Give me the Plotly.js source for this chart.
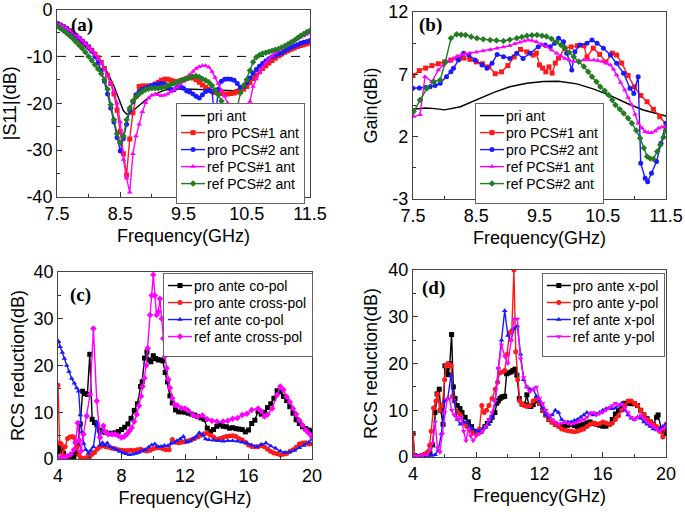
<!DOCTYPE html>
<html><head><meta charset="utf-8">
<script src="https://cdn.plot.ly/plotly-3.0.1.min.js"></script>
<style>body{margin:0;background:#fff}#c{width:685px;height:515px}</style>
</head><body><div id="c"></div>
<script>
// ---------- panel (a): |S11| ----------
const aPriX=[7.5,7.6,7.7,7.8,7.9,8.0,8.1,8.2,8.3,8.4,8.5,8.55,8.6,8.65,8.7,8.8,8.9,9.0,9.2,9.4,9.6,9.8,10.0,10.2,10.3,10.4,10.5,10.6,10.7,10.8,10.9,11.0,11.1,11.2,11.3,11.4,11.5];
const aPriY=[-3,-3.9,-5,-6.2,-7.5,-8.6,-9.8,-11.3,-13.5,-16.3,-19.8,-21.6,-22.3,-22.2,-21.6,-20.4,-19.3,-18.3,-17.2,-16.9,-17,-17.1,-17.2,-17.3,-17.3,-16.8,-15.7,-14.5,-13.1,-11.9,-10.9,-10.1,-9.4,-8.7,-8.1,-7.5,-7];
const aX=[7.5,7.55,7.6,7.65,7.7,7.75,7.8,7.85,7.9,7.95,8.0,8.05,8.1,8.15,8.2,8.25,8.3,8.35,8.4,8.45,8.5,8.55,8.6,8.65,8.7,8.75,8.8,8.85,8.9,8.95,9.0,9.05,9.1,9.15,9.2,9.25,9.3,9.35,9.4,9.45,9.5,9.55,9.6,9.65,9.7,9.75,9.8,9.85,9.9,9.95,10.0,10.05,10.1,10.15,10.2,10.25,10.3,10.35,10.4,10.45,10.5,10.55,10.6,10.65,10.7,10.75,10.8,10.85,10.9,10.95,11.0,11.05,11.1,11.15,11.2,11.25,11.3,11.35,11.4,11.45,11.5];
const aPro1=[-3,-3.3,-3.7,-4.1,-4.6,-5.1,-5.6,-6.2,-6.8,-7.4,-8.0,-8.7,-9.5,-10.3,-11.3,-12.6,-14,-15.8,-18,-21.5,-26,-30.8,-35.3,-27.6,-22,-18.5,-16.4,-16.3,-16.3,-16.3,-16.2,-15.9,-15.5,-15.1,-14.9,-14.9,-15.1,-15.3,-15.4,-15.2,-15,-14.7,-14.4,-14.6,-15,-15.5,-16.1,-16.6,-17,-17.4,-17.7,-17.8,-17.9,-18,-18,-17.9,-17.8,-17.6,-17.4,-17,-16.4,-15.6,-14.7,-14,-13.3,-12.6,-12,-11.4,-10.9,-10.4,-9.9,-9.5,-9.1,-8.8,-8.5,-8.2,-7.9,-7.7,-7.5,-7.3,-7.1];
const aPro2=[-3,-3.3,-3.6,-4,-4.5,-5,-5.5,-6.1,-6.7,-7.3,-8,-8.9,-10,-11.4,-13,-15.3,-18,-21,-24,-27.3,-30.2,-27.5,-24.5,-21.5,-19.7,-18.2,-17.5,-17,-16.8,-16.5,-16.2,-16,-15.9,-15.8,-15.9,-16.5,-17,-17.1,-16.6,-16.3,-16.8,-17.4,-17.6,-18,-18.5,-18.9,-18.2,-17.5,-17.3,-17.5,-24,-17,-15.3,-14.9,-14.8,-14.9,-15.1,-15.8,-16.6,-16.5,-15.6,-14.6,-13.6,-12.8,-12.1,-11.5,-11,-10.5,-10.1,-9.8,-9.5,-9.2,-8.8,-8.4,-8.1,-7.8,-7.5,-7.2,-7,-6.8,-6.6];
const aRef1=[-3,-3.3,-3.6,-4,-4.4,-4.9,-5.4,-6,-6.6,-7.3,-8,-8.8,-9.6,-10.5,-11.5,-12.8,-14.2,-15.8,-17.5,-20,-24,-32,-36,-39,-30.8,-27,-24.5,-21.8,-19.9,-18.9,-18.3,-18.1,-18.2,-18.4,-18.3,-18,-17.6,-17.1,-16.6,-16,-15.3,-14.6,-13.9,-13.2,-12.6,-12.2,-12,-12,-12.3,-13.2,-14.5,-15.8,-17.2,-18.5,-20,-22.5,-25,-27,-27,-25,-22,-19.6,-16.4,-14.8,-13.4,-12.3,-11.4,-10.6,-9.9,-9.3,-8.8,-8.3,-7.9,-7.5,-7.1,-6.7,-6.3,-5.9,-5.6,-5.3,-5];
const aRef2=[-3.5,-4,-4.5,-5,-5.6,-6.2,-6.9,-7.6,-8.3,-9.1,-10,-10.9,-11.8,-12.7,-13.7,-15,-17,-20.3,-23.5,-26.5,-28.5,-27,-23.5,-21,-19.5,-18.6,-18,-17.5,-17.1,-16.9,-16.8,-16.8,-16.8,-16.7,-16.5,-16.2,-16,-15.8,-15.5,-15.2,-15,-14.7,-14.5,-14.3,-14.2,-14.4,-14.8,-15.1,-15.5,-16.2,-17.2,-18.2,-19.5,-21,-23,-24,-23.5,-21,-17.8,-16.2,-15,-13,-11.2,-10.2,-9.7,-9.4,-9.2,-9,-8.8,-8.6,-8.4,-8.1,-7.8,-7.4,-7,-6.6,-6.1,-5.6,-5.2,-4.8,-4.5];
const aRefLine=[-10];
const aXTicks=[7.5,8.5,9.5,10.5,11.5];
const aYTicks=[0,-10,-20,-30,-40];
const aYLabels=['0','-10','-20','-30','-40'];

// ---------- panel (b): Gain ----------
const bPriX=[7.5,7.7,7.85,8.0,8.25,8.5,8.78,9.03,9.3,9.56,9.8,10.09,10.36,10.62,10.88,11.14,11.5];
const bPriY=[4.2,4.3,4.25,4.15,4.4,4.95,5.56,6.0,6.28,6.42,6.45,6.23,5.82,5.29,4.68,4.14,3.65];
const bPro1X=[7.5,7.6,7.7,7.8,7.9,8.0,8.1,8.2,8.3,8.4,8.5,8.6,8.7,8.8,8.9,9.0,9.1,9.2,9.3,9.4,9.45,9.5,9.55,9.6,9.65,9.7,9.75,9.8,9.9,10.0,10.1,10.2,10.25,10.35,10.45,10.55,10.65,10.72,10.8,10.9,11.0,11.1,11.2,11.3,11.4,11.5];
const bPro1Y=[6.9,7.3,7.5,7.7,7.85,8.0,8.15,8.3,8.3,8.2,8.0,7.85,7.6,7.05,7.2,7.7,8.4,9.0,8.8,8.55,8.7,7.75,7.5,7.2,7.6,7.1,7.9,8.3,9.1,9.2,9.3,9.3,8.4,9.1,8.6,8.0,8.7,8.55,7.9,6.9,6.0,5.3,4.8,4.2,3.6,3.0];
const bPro2X=[7.5,7.6,7.7,7.77,7.85,7.93,8.03,8.1,8.14,8.22,8.3,8.38,8.48,8.59,8.67,8.75,8.83,8.93,9.03,9.14,9.24,9.35,9.48,9.59,9.67,9.74,9.8,9.88,9.93,10.01,10.06,10.14,10.25,10.33,10.41,10.51,10.62,10.72,10.83,10.93,10.99,11.06,11.1,11.17,11.21,11.27,11.35,11.42,11.5];
const bPro2Y=[5.88,5.9,5.95,6.01,6.1,6.28,6.81,7.2,7.48,8.15,8.69,8.55,8.15,7.75,7.48,7.88,8.6,8.42,8.28,8.69,8.28,8.69,9.22,9.36,9.22,9.5,9.89,9.62,8.69,7.35,8.82,9.36,9.5,9.76,9.5,9.09,8.55,7.88,7.08,5.88,5.47,6.81,-0.14,-1.34,-1.61,-0.94,0.0,1.47,3.07];
const bRef1X=[7.51,7.61,7.69,7.8,7.9,7.98,8.06,8.14,8.2,8.27,8.33,8.4,8.5,8.61,8.72,8.83,8.93,9.03,9.11,9.19,9.26,9.32,9.38,9.45,9.53,9.61,9.69,9.77,9.84,9.9,9.97,10.04,10.12,10.2,10.28,10.36,10.42,10.49,10.56,10.62,10.67,10.72,10.78,10.85,10.9,10.96,11.01,11.06,11.12,11.17,11.22,11.27,11.33,11.38,11.43,11.48];
const bRef1Y=[3.61,3.75,6.81,6.41,7.35,7.75,8.0,8.28,8.45,8.6,8.65,8.69,8.78,8.87,8.98,9.09,9.2,9.3,9.45,9.57,9.68,9.76,9.72,9.62,9.42,9.22,8.95,8.69,8.48,8.28,8.15,8.02,8.08,8.15,8.15,8.15,8.1,8.02,7.9,7.75,7.4,6.95,6.35,5.74,5.15,4.54,3.8,3.07,2.7,2.4,2.33,2.32,2.45,2.67,2.75,2.8];
const bRef2X=[7.51,7.61,7.72,7.83,7.93,8.01,8.1,8.19,8.26,8.33,8.42,8.51,8.61,8.72,8.82,8.93,9.03,9.14,9.22,9.3,9.38,9.46,9.54,9.61,9.69,9.77,9.84,9.9,9.97,10.04,10.12,10.2,10.27,10.33,10.4,10.46,10.53,10.59,10.65,10.7,10.77,10.83,10.9,10.96,11.03,11.09,11.15,11.2,11.25,11.3,11.36,11.41,11.46,11.5];
const bRef2Y=[4.01,4.95,5.88,6.41,6.55,7.97,9.89,10.21,10.18,10.16,10.02,9.89,9.82,9.76,9.72,9.68,9.78,9.89,10.0,10.1,10.13,10.16,10.1,10.03,9.85,9.62,9.35,9.09,8.75,8.42,8.0,7.62,7.2,6.81,6.4,6.01,5.68,5.34,4.94,4.54,4.2,3.87,3.47,3.07,2.5,1.87,1.1,0.4,0.25,0.21,0.8,1.34,1.95,2.54];
const bXTicks=[7.5,8.5,9.5,10.5,11.5];
const bYTicks=[-3,2,7,12];
const bYLabels=['-3','2','7','12'];

// ---------- panel (c): RCS reduction co/cross ----------
const cProCoX=[4.0,4.1,4.2,4.35,4.5,4.65,4.8,5.0,5.1,5.25,5.4,5.55,5.7,5.85,6.0,6.15,6.3,6.45,6.6,6.8,7.0,7.2,7.4,7.6,7.8,8.0,8.2,8.4,8.6,8.8,9.0,9.2,9.3,9.45,9.6,9.7,9.85,10.0,10.15,10.3,10.45,10.6,10.75,10.9,11.05,11.2,11.4,11.6,11.8,12.0,12.2,12.4,12.6,12.8,13.0,13.2,13.4,13.6,13.8,14.0,14.2,14.4,14.6,14.8,15.0,15.2,15.4,15.6,15.8,16.0,16.2,16.4,16.6,16.8,17.0,17.2,17.4,17.6,17.8,18.0,18.2,18.4,18.6,18.8,19.0,19.2,19.4,19.6,19.8,20.0];
const cProCoY=[1.5,2.8,2.0,1.2,0.5,0.1,0.1,0.5,1.2,3.2,7.5,14.5,14.0,13.8,22.4,8.5,7.8,7.3,6.2,5.8,5.7,5.5,5.5,5.6,5.9,6.3,6.8,7.5,8.7,10.4,11.8,15.5,16.5,21.6,22.9,21.2,20.8,22.1,21.5,21.2,21.2,21,18.5,16.5,13.5,12,10.5,10.1,10.1,10,9.8,9.6,9.4,9.1,8.8,8.5,6.6,5.9,6.3,7,7.3,7.0,6.9,6.6,6.7,6.5,6.4,6.3,5.8,6.2,7.6,8.3,10.2,9.6,10.0,11.0,11.8,13.0,14.6,14.4,13.4,12.5,11.2,9.8,8.4,7.6,6.9,6.5,6.2,6.0];
const cProCrX=[4.0,4.1,4.2,4.3,4.45,4.6,4.75,4.9,5.0,5.1,5.2,5.31,5.42,5.52,5.7,5.83,6.0,6.14,6.3,6.46,6.6,6.77,7.0,7.2,7.4,7.6,7.8,8.0,8.2,8.4,8.6,8.8,9.0,9.2,9.4,9.6,9.8,10.0,10.2,10.4,10.6,10.8,11.0,11.2,11.4,11.6,11.8,12.0,12.2,12.4,12.6,12.8,13.0,13.2,13.4,13.6,13.8,14.0,14.2,14.4,14.6,14.8,15.0,15.2,15.4,15.6,15.8,16.0,16.2,16.4,16.6,16.8,17.0,17.2,17.4,17.6,17.8,18.0,18.2,18.4,18.6,18.8,19.0,19.2,19.4,19.6,19.8,20.0];
const cProCrY=[15.8,3.4,3.2,0.8,2.6,4.4,4.7,4.8,4.6,3.7,2.5,0.9,0.3,0,0.2,0.3,0.5,1,1.4,2.1,2.5,2.8,2.6,2.5,2.3,2.2,2.0,1.9,1.8,1.8,1.9,1.8,2.0,2.1,1.9,1.7,1.9,2.2,2.4,2.4,2.2,2.0,2.0,4.2,3.6,3.5,3.6,3.7,3.9,4.1,4.4,4.7,5.1,5.4,5.5,5.1,4.7,4.2,4.4,4.6,4.8,4.9,5.0,4.8,4.4,4.1,3.6,3.0,2.7,2.6,2.6,2.9,2.6,2.1,1.6,1.3,1.1,0.9,1.0,1.2,1.6,2.0,2.5,3.2,3.4,3.5,3.2,3.2];
const cRefCoX=[4.0,4.13,4.27,4.4,4.55,4.69,4.86,5.03,5.18,5.3,5.4,5.5,5.62,5.75,5.91,6.05,6.23,6.44,6.65,6.8,6.96,7.1,7.3,7.5,7.7,7.9,8.1,8.3,8.5,8.7,8.9,9.1,9.3,9.5,9.7,9.9,10.1,10.3,10.5,10.7,10.9,11.1,11.3,11.5,11.7,11.9,12.1,12.3,12.5,12.7,12.9,13.1,13.3,13.5,13.8,14.1,14.4,14.7,15.0,15.3,15.6,15.9,16.2,16.5,16.8,17.1,17.4,17.7,18.0,18.3,18.6,18.9,19.2,19.5,19.8,20.0];
const cRefCoY=[25.3,24,22.8,21.5,20,18.7,17.2,16.2,15.2,14.5,9.4,5.8,3.3,2,1.2,1.8,2.6,7.9,3,3.5,2.9,3.4,2.6,2.3,2.0,1.6,1.3,1.1,0.9,1.0,1.2,1.4,1.7,2.0,2.5,3.0,3.2,2.6,2.7,2.9,2.8,3.3,3.5,3.9,4.3,4.8,3.6,3.8,4.3,4.8,5.6,5.2,4.3,4.1,4.0,3.9,3.8,3.9,3.9,3.8,3.6,3.4,3.0,2.6,3.1,3.4,2.8,2.3,1.7,1.4,1.5,1.8,2.4,2.9,3.6,4.3];
const cRefCrX=[4.0,4.15,4.3,4.45,4.6,4.8,5.0,5.1,5.24,5.35,5.45,5.6,5.81,6.02,6.23,6.44,6.65,6.86,7.0,7.17,7.4,7.6,7.8,8.0,8.17,8.33,8.5,8.64,8.8,8.96,9.1,9.23,9.33,9.44,9.55,9.65,9.8,9.9,10.0,10.1,10.21,10.32,10.42,10.53,10.63,10.74,10.84,10.95,11.05,11.2,11.36,11.5,11.78,12.0,12.2,12.5,12.8,13.1,13.4,13.7,14.0,14.4,14.7,15.0,15.3,15.6,15.9,16.2,16.6,16.8,17.0,17.2,17.5,17.8,18.0,18.2,18.4,18.6,18.8,19.0,19.2,19.4,19.6,19.8,20.0];
const cRefCrY=[0.3,0.2,0.3,0.4,0.6,1,2,3.5,7.7,4,1.7,5.3,9.2,13.8,27.9,12.4,4.6,7.1,5.8,5.3,5.3,5.3,5.0,4.6,4.8,5.3,6,6.7,8,9.5,11.4,13.4,15.5,17.3,20,23.7,30.8,35,39.4,35,30.8,31.5,34.3,30,25.8,22,19.4,17,15.2,13,11.6,11.5,10.9,10.8,10.4,9.4,9.1,9.3,8.5,8.2,8,8,8.2,8.6,8.8,9.4,9.7,10.5,10.8,10.2,9.1,9.5,10.8,13.7,15.5,14.8,13.3,12.2,10.8,9.6,8.3,7.3,6.2,5.5,4.7];
const cdXTicks=[4,8,12,16,20];
const cdYTicks=[0,10,20,30,40];

// ---------- panel (d): RCS reduction x/y ----------
const dProXX=[4.0,4.1,4.3,4.5,4.7,4.9,5.07,5.24,5.39,5.52,5.66,5.75,5.9,6.02,6.12,6.23,6.33,6.44,6.55,6.66,6.8,6.97,7.1,7.3,7.5,7.7,7.9,8.13,8.3,8.55,8.7,8.87,9.0,9.18,9.3,9.4,9.5,9.6,9.7,9.8,9.92,10.05,10.2,10.32,10.45,10.57,10.72,10.9,11.05,11.2,11.32,11.45,11.6,11.8,12.0,12.2,12.4,12.6,12.8,13.0,13.2,13.4,13.6,13.8,14.0,14.2,14.4,14.6,14.8,15.0,15.2,15.4,15.6,15.8,16.0,16.2,16.4,16.6,16.8,17.0,17.2,17.4,17.6,17.8,18.0,18.2,18.4,18.6,18.8,19.0,19.2,19.4,19.5,19.7,19.9,20.0];
const dProXY=[5,0.3,0.1,0.1,0.2,0.4,0.8,2.6,9.5,13.5,14.5,10,7,19.5,18.5,17.6,20,26.2,15,12.5,11,10.4,9.5,8.5,7.5,6.5,5.5,5.3,5.5,6.5,7.2,7.8,8.5,9.5,11.5,12,12.5,12.8,12.9,13,17.8,18,18.2,18.5,18.8,17.5,12.5,11.3,11.2,13.3,11,10.8,11.2,12,11.5,10,9,8,7.5,7,6.8,6.5,6.6,6.8,7,6.7,6.5,6.8,7,7.3,7.5,7.2,7,6.8,6.6,6.6,7,8,9.2,10,10.8,11.5,11.5,11.4,11.4,11,10,9,8.2,7.5,7,8.5,9,6,5.5,5];
const dProYX=[4.0,4.1,4.3,4.5,4.7,4.9,5.05,5.15,5.3,5.45,5.55,5.7,5.85,6.0,6.1,6.2,6.3,6.4,6.5,6.6,6.8,7.0,7.2,7.4,7.6,7.8,8.0,8.2,8.35,8.5,8.65,8.8,9.0,9.2,9.35,9.5,9.65,9.8,9.95,10.1,10.25,10.38,10.5,10.62,10.75,10.9,11.05,11.2,11.4,11.6,11.8,12.0,12.2,12.4,12.6,12.8,13.0,13.2,13.4,13.6,13.8,14.0,14.2,14.4,14.6,14.8,15.0,15.2,15.4,15.6,15.8,16.0,16.2,16.4,16.6,16.8,17.0,17.2,17.4,17.6,17.8,18.0,18.2,18.4,18.6,18.8,19.0,19.2,19.4,19.6,19.8,20.0];
const dProYY=[5,0.2,0.1,0.3,0.6,1,2.5,5.5,10.5,12,13.5,10,11,16.5,19.5,20,19.8,19.5,13,12,9.5,9,7.2,6.5,5.8,5.2,5,6,11,9.5,10,11,12.5,14.5,16,18,18.2,18.5,22,26.5,27,40,22.5,16.5,12,11.3,11,10.8,11,12,12.5,11.5,10,9,8,7.5,7,6.5,6,5.8,5.6,5.5,5.4,5.5,5.8,6,6.5,7,7.2,7,7.1,7.5,7.3,7,7.2,8,8.8,10,11,12,12,11.5,11,10,9,8,7.5,7,6.5,5.5,4.3,7];
const dRefXX=[4.0,4.3,4.6,4.9,5.2,5.4,5.6,5.8,6.0,6.2,6.4,6.6,6.8,7.0,7.2,7.4,7.6,7.8,8.0,8.2,8.4,8.6,8.8,9.0,9.2,9.4,9.6,9.8,10.0,10.2,10.4,10.6,10.8,11.0,11.2,11.4,11.6,11.8,12.0,12.2,12.4,12.6,12.8,13.0,13.2,13.4,13.6,13.8,14.0,14.2,14.4,14.6,14.8,15.0,15.2,15.4,15.6,15.8,16.0,16.2,16.4,16.6,16.8,17.0,17.2,17.4,17.6,17.8,18.0,18.2,18.4,18.6,18.8,19.0,19.2,19.4,19.6,19.8,20.0];
const dRefXY=[0.3,0.2,0.2,0.3,0.3,0.5,1.5,5,12,12.5,17.5,12,8,7,7.5,7.5,6.5,6,5.5,5.5,6,6.5,7,8.5,12,19,25,31.3,26,25,27.5,28,22,16.5,15,14.5,14.5,13,12,10.5,9,8.5,9,10,9.5,8,7.5,7.5,7.5,7.8,8,8.5,9,9.5,9.3,9,9.2,9.5,10,10.3,10.5,10.3,10.5,11,11.5,10,9,8.3,8,8.5,8.3,7.5,7,6.5,6,5.8,6,6.5,7];
const dRefYX=[4.0,4.3,4.6,4.9,5.1,5.25,5.4,5.55,5.7,5.85,6.0,6.15,6.3,6.45,6.6,6.75,6.9,7.05,7.2,7.35,7.5,7.65,7.8,8.0,8.2,8.4,8.6,8.8,9.0,9.2,9.4,9.6,9.8,10.0,10.2,10.4,10.6,10.8,11.0,11.2,11.4,11.6,11.8,12.0,12.2,12.4,12.6,12.8,13.0,13.2,13.4,13.6,13.8,14.0,14.2,14.4,14.6,14.8,15.0,15.2,15.4,15.6,15.8,16.0,16.2,16.4,16.6,16.8,17.0,17.2,17.4,17.6,17.8,18.0,18.2,18.4,18.6,18.8,19.0,19.2,19.4,19.6,19.8,20.0];
const dRefYY=[0.3,0.2,0.3,0.5,1.5,3,7.5,2,1,5,9.5,12.3,12.5,10,9,8.5,8,8.5,5.5,3.5,6,4.5,3.5,4.5,5,5.5,6.5,8,9.5,12,19,24,21.5,20,25,29.5,29.5,21,17,15,14,14.5,15,12.5,11.5,10,9,8,7.5,7,7.3,7.5,7.2,7,7.2,7.5,7.8,8,8.5,9.3,9.5,9,9.3,9.6,10,10.5,11,11.5,11,11.3,10.5,9.5,8.5,8,8.5,9,8.3,7.5,7,6.5,6,5.5,6,6.5];

// ---------- names ----------
const abNames=['pri ant','pro PCS#1 ant','pro PCS#2 ant','ref PCS#1 ant','ref PCS#2 ant'];
const cNames=['pro ante co-pol','pro ante cross-pol','ref ante co-pol','ref ante cross-pol'];
const dNames=['pro ante x-pol','pro ante y-pol','ref ante x-pol','ref ante y-pol'];
const xTitle='Frequency(GHz)';
const yTitles=['|S11|(dB)','Gain(dBi)','RCS reduction(dB)','RCS reduction(dB)'];
const panelLabels=['(a)','(b)','(c)','(d)'];

const RED='#ff1a1a', BLUE='#1a1aff', MAG='#ff00ff', GRN='#237b23', BLK='#000000';
function tr(x,y,name,color,symbol,xa,ya,leg){
  const t={x:x,y:y,name:name,xaxis:xa,yaxis:ya,legend:leg,
    mode: symbol? 'lines+markers':'lines',
    line:{color:color,width:1.4},showlegend:true};
  if(symbol) t.marker={symbol:symbol,size:5,color:color,line:{width:0}};
  return t;
}
const data=[
  tr(aPriX,aPriY,abNames[0],BLK,null,'x','y','legend'),
  tr(aX,aPro1,abNames[1],RED,'square','x','y','legend'),
  tr(aX,aPro2,abNames[2],BLUE,'circle','x','y','legend'),
  tr(aX,aRef1,abNames[3],MAG,'triangle-up','x','y','legend'),
  tr(aX,aRef2,abNames[4],GRN,'diamond','x','y','legend'),
  tr(bPriX,bPriY,abNames[0],BLK,null,'x2','y2','legend2'),
  tr(bPro1X,bPro1Y,abNames[1],RED,'square','x2','y2','legend2'),
  tr(bPro2X,bPro2Y,abNames[2],BLUE,'circle','x2','y2','legend2'),
  tr(bRef1X,bRef1Y,abNames[3],MAG,'triangle-up','x2','y2','legend2'),
  tr(bRef2X,bRef2Y,abNames[4],GRN,'diamond','x2','y2','legend2'),
  tr(cProCoX,cProCoY,cNames[0],BLK,'square','x3','y3','legend3'),
  tr(cProCrX,cProCrY,cNames[1],RED,'circle','x3','y3','legend3'),
  tr(cRefCoX,cRefCoY,cNames[2],BLUE,'triangle-up','x3','y3','legend3'),
  tr(cRefCrX,cRefCrY,cNames[3],MAG,'diamond','x3','y3','legend3'),
  tr(dProXX,dProXY,dNames[0],BLK,'square','x4','y4','legend4'),
  tr(dProYX,dProYY,dNames[1],RED,'circle','x4','y4','legend4'),
  tr(dRefXX,dRefXY,dNames[2],BLUE,'triangle-up','x4','y4','legend4'),
  tr(dRefYX,dRefYY,dNames[3],MAG,'triangle-down','x4','y4','legend4')
];

const FONT='"Liberation Sans", Arial, sans-serif';
function xax(dom,anchor,range,tv,minorD){
  return {domain:dom,anchor:anchor,range:range,tickmode:'array',tickvals:tv,
    ticks:'inside',ticklen:5,tickwidth:1,tickcolor:'#333',ticklabeloverflow:'allow',
    minor:{ticks:'inside',ticklen:3,dtick:minorD,tick0:range[0],tickcolor:'#333',showgrid:false},
    showline:true,mirror:true,linecolor:'#444',linewidth:1,showgrid:false,zeroline:false,
    tickfont:{size:18,family:FONT,color:'#000'},
    title:{text:xTitle,font:{size:18,family:FONT,color:'#000'},standoff:6}};
}
function yax(dom,anchor,range,tv,tt,minorD,title,stand){
  const o={domain:dom,anchor:anchor,range:range,tickmode:'array',tickvals:tv,
    ticks:'inside',ticklen:5,tickwidth:1,tickcolor:'#333',ticklabeloverflow:'allow',
    minor:{ticks:'inside',ticklen:3,dtick:minorD,tick0:range[0],tickcolor:'#333',showgrid:false},
    showline:true,mirror:true,linecolor:'#444',linewidth:1,showgrid:false,zeroline:false,
    tickfont:{size:18,family:FONT,color:'#000'},
    title:{text:title,font:{size:18,family:FONT,color:'#000'},standoff:stand}};
  if(tt) o.ticktext=tt;
  return o;
}
function leg(x,y){
  return {x:x,y:y,xanchor:'left',yanchor:'top',xref:'paper',yref:'paper',
    bgcolor:'#ffffff',bordercolor:'#666',borderwidth:1,
    font:{size:14,family:FONT,color:'#000'},tracegroupgap:0,itemwidth:30};
}
function lab(t,xr,yr,xd,yd){
  return {text:'<b>'+t+'</b>',xref:xr+' domain',yref:yr+' domain',x:xd,y:yd,
    showarrow:false,xanchor:'center',yanchor:'middle',
    font:{family:'"Liberation Serif", "Times New Roman", serif',size:19,color:'#000'}};
}
const layout={
  width:685,height:515,margin:{l:0,r:0,t:0,b:0},
  paper_bgcolor:'#fff',plot_bgcolor:'#fff',
  font:{family:FONT,color:'#000'},
  xaxis:xax([0.0832,0.4526],'y',[7.5,11.5],aXTicks,0.5),
  yaxis:yax([0.6175,0.9815],'x',[-40,0],aYTicks,aYLabels,5,yTitles[0],6),
  xaxis2:xax([0.6029,0.9723],'y2',[7.5,11.5],bXTicks,0.5),
  yaxis2:yax([0.6136,0.9767],'x2',[-3,12],bYTicks,bYLabels,2.5,yTitles[1],6),
  xaxis3:xax([0.0847,0.4555],'y3',[4,20],cdXTicks,2),
  yaxis3:yax([0.1087,0.4718],'x3',[0,40],cdYTicks,null,5,yTitles[2],4),
  xaxis4:xax([0.6029,0.9723],'y4',[4,20],cdXTicks,2),
  yaxis4:yax([0.1126,0.4757],'x4',[0,40],cdYTicks,null,5,yTitles[3],6),
  legend:leg(0.257,0.80),
  legend2:leg(0.6934,0.80),
  legend3:leg(0.238,0.470),
  legend4:leg(0.791,0.470),
  shapes:[{type:'line',xref:'x',yref:'y',x0:aXTicks[0],x1:aXTicks[aXTicks.length-1],y0:aRefLine[0],y1:aRefLine[0],
    line:{color:'#000',width:1,dash:'dash'},layer:'below'}],
  annotations:[
    lab(panelLabels[0],'x','y',0.099,0.915),
    lab(panelLabels[1],'x2','y2',0.071,0.93),
    lab(panelLabels[2],'x3','y3',0.09,0.877),
    lab(panelLabels[3],'x4','y4',0.083,0.904)
  ]
};

// compact the legends (row spacing and symbol width) to match the reference;
// Plotly has no layout option for these
function tightenLegends(gd){
  try{
    const SP=17, UP=4, SHIFT=10;
    gd.querySelectorAll('g.infolayer > g').forEach(function(g){
      const cls=g.getAttribute('class')||'';
      if(!/^legend\d*$/.test(cls)) return;
      const items=Array.from(g.querySelectorAll('g.traces'));
      if(items.length<2) return;
      const pos=items.map(function(el){
        const m=/translate\(\s*([-\d.e]+)[ ,]+([-\d.e]+)/.exec(el.getAttribute('transform')||'');
        return m?[+m[1],+m[2]]:[0,0];
      });
      const old=(pos[pos.length-1][1]-pos[0][1])/(items.length-1);
      if(!(old>SP)) return;
      items.forEach(function(el,i){el.setAttribute('transform','translate('+(pos[i][0]-SHIFT)+','+(pos[0][1]-UP+i*SP)+')');});
      const bg=g.querySelector('rect.bg');
      if(bg){
        const h=parseFloat(bg.getAttribute('height'));bg.setAttribute('height',h-(old-SP)*(items.length-1));
        const w=parseFloat(bg.getAttribute('width'));bg.setAttribute('width',w-SHIFT);
      }
      g.querySelectorAll('.legendlines path').forEach(function(p){p.setAttribute('d','M'+(4+SHIFT)+',0h24');});
      g.querySelectorAll('.legendpoints path.scatterpts').forEach(function(p){p.setAttribute('transform','translate('+(16+SHIFT)+',0)');});
    });
  }catch(e){}
}
Plotly.newPlot('c',data,layout,{displayModeBar:false,staticPlot:true}).then(function(gd){tightenLegends(gd);});
</script></body></html>
